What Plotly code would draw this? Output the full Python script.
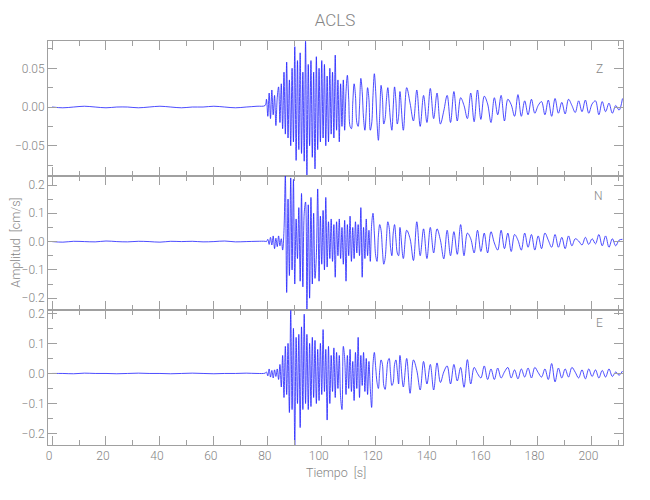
import numpy as np
import plotly.graph_objects as go
from plotly.subplots import make_subplots

# ---------------- data (cm/s) ----------------
T_PRE = np.arange(0, 80, 4)            # quiet pre-event samples
T_MAIN = np.arange(79, 129, 0.5)       # strong-motion samples
T_CODA = 129 + 1.25 * np.arange(67)    # coda samples

Z_PRE = [0.000, -0.001, 0.000, 0.001, 0.000, -0.001, 0.000, 0.000, -0.001, 0.000,
         0.001, 0.000, -0.001, 0.000, 0.000, 0.001, 0.000, -0.001, 0.000, 0.001]
Z_MAIN = [0.002, 0.010, -0.012, 0.018, -0.015, 0.022, -0.010, 0.015, -0.024, 0.012,
          0.026, -0.020, 0.030, -0.028, 0.045, -0.035, 0.058, -0.040, 0.035, -0.050,
          0.050, -0.045, 0.078, -0.069, 0.060, -0.055, 0.070, -0.060, 0.045, -0.070,
          0.085, -0.088, 0.055, -0.050, 0.060, -0.065, 0.045, -0.080, 0.065, -0.055,
          0.050, -0.045, 0.060, -0.040, 0.055, -0.050, 0.040, -0.045, 0.050, -0.035,
          0.045, -0.040, 0.067, -0.030, 0.035, -0.045, 0.030, -0.025, 0.035, -0.030,
          0.020, 0.041, 0.010, -0.025, -0.028, 0.005, 0.030, 0.015, -0.020, -0.025,
          0.000, 0.037, 0.020, -0.015, -0.030, -0.005, 0.025, 0.010, -0.030, -0.022,
          0.015, 0.043, 0.020, -0.020, -0.043, -0.010, 0.028, 0.012, -0.022, -0.015,
          0.010, 0.025, 0.005, -0.018, -0.030, 0.000, 0.026, 0.008, -0.022, -0.012]
Z_CODA = [0.020, -0.030, 0.025, 0.005, -0.018, 0.022, -0.025, 0.015, -0.020, 0.024,
          -0.015, 0.018, -0.022, -0.005, 0.015, -0.020, 0.020, -0.018, 0.012, 0.002,
          -0.015, 0.018, -0.019, 0.022, -0.016, 0.014, 0.004, -0.020, 0.012, -0.010,
          0.015, -0.018, 0.010, 0.003, -0.012, 0.016, -0.012, 0.008, -0.010, 0.010,
          -0.008, 0.002, 0.007, -0.010, 0.009, -0.012, 0.011, -0.008, 0.006, -0.009,
          0.010, 0.002, -0.007, 0.008, -0.006, 0.009, -0.008, 0.004, 0.008, -0.010,
          0.007, -0.006, 0.005, -0.008, 0.002, -0.004, 0.011]

N_PRE = [0.000, -0.002, 0.001, 0.000, -0.001, 0.002, 0.000, -0.001, 0.001, 0.000,
         -0.002, 0.001, 0.000, 0.001, -0.001, 0.000, 0.002, -0.001, 0.000, 0.001]
N_MAIN = [0.001, 0.000, 0.008, -0.010, 0.015, -0.012, 0.020, -0.025, 0.012, -0.018,
          0.020, -0.015, 0.010, -0.030, 0.040, 0.233, -0.180, 0.150, -0.120, 0.225,
          -0.100, 0.220, -0.150, 0.080, -0.060, 0.120, -0.140, 0.170, -0.160, 0.100,
          0.140, -0.243, 0.130, -0.200, 0.156, -0.150, 0.100, -0.130, -0.050, 0.186,
          -0.140, 0.090, -0.080, 0.110, -0.100, 0.156, -0.090, 0.070, -0.060, 0.080,
          -0.070, 0.060, -0.126, 0.070, -0.050, 0.080, -0.060, 0.050, -0.080, 0.075,
          -0.140, 0.060, -0.050, 0.090, -0.070, 0.050, -0.060, 0.070, -0.040, 0.060,
          -0.050, 0.120, -0.126, 0.050, -0.060, 0.080, -0.050, 0.040, -0.070, 0.060,
          0.100, 0.030, -0.050, -0.070, 0.020, 0.060, 0.040, -0.030, -0.080, -0.060,
          0.010, 0.070, 0.050, -0.020, -0.050, 0.030, 0.060, 0.010, -0.040, -0.050]
N_CODA = [0.050, -0.060, 0.040, 0.010, -0.067, 0.070, -0.050, 0.045, -0.060, 0.050,
          -0.040, 0.045, 0.005, -0.061, 0.040, -0.050, 0.035, -0.045, 0.060, -0.050,
          0.030, 0.010, -0.040, 0.040, -0.035, 0.030, -0.040, 0.035, -0.005, -0.030,
          0.040, -0.025, 0.030, -0.035, 0.025, 0.005, -0.030, 0.030, -0.020, 0.025,
          -0.030, 0.020, -0.025, 0.030, 0.005, -0.020, 0.025, -0.020, 0.015, -0.025,
          0.020, -0.015, 0.010, 0.002, -0.012, 0.015, -0.010, 0.010, -0.008, 0.025,
          -0.015, 0.020, -0.020, 0.010, -0.015, 0.005, 0.008]

E_PRE = [0.000, 0.000, -0.001, 0.001, 0.000, 0.000, -0.001, 0.000, 0.001, 0.000,
         0.000, -0.001, 0.000, 0.001, 0.000, -0.001, 0.000, 0.000, 0.001, 0.000]
E_MAIN = [0.001, 0.005, -0.008, 0.015, -0.012, 0.010, -0.015, 0.012, -0.010, 0.015,
          -0.020, 0.030, -0.045, 0.060, -0.080, 0.090, -0.070, 0.100, -0.130, 0.210,
          -0.120, 0.150, -0.238, 0.120, -0.100, 0.130, -0.180, 0.155, -0.120, 0.197,
          -0.100, 0.130, -0.120, 0.100, -0.110, 0.120, -0.080, 0.110, -0.100, 0.080,
          -0.090, 0.100, -0.070, 0.146, -0.060, 0.080, -0.155, 0.090, -0.100, 0.060,
          -0.060, 0.085, -0.080, 0.070, -0.050, 0.060, -0.080, -0.120, 0.090, 0.050,
          -0.070, 0.060, -0.050, 0.080, -0.060, 0.040, -0.090, 0.070, -0.050, 0.120,
          -0.080, 0.060, -0.040, 0.070, -0.060, 0.050, -0.070, 0.040, -0.050, -0.113,
          0.030, 0.070, 0.020, -0.030, -0.050, 0.010, 0.045, 0.030, -0.040, -0.053,
          -0.010, 0.040, 0.050, 0.000, -0.040, -0.030, 0.030, 0.045, 0.010, -0.035]
E_CODA = [0.060, -0.045, 0.050, -0.066, 0.045, 0.010, -0.055, 0.040, -0.035, 0.030,
          -0.055, 0.035, -0.030, 0.005, 0.025, -0.035, 0.030, -0.025, 0.020, -0.046,
          0.046, -0.035, 0.020, 0.000, -0.015, 0.025, -0.020, 0.015, -0.020, 0.018,
          -0.015, 0.005, 0.020, -0.015, 0.012, -0.018, 0.015, -0.012, 0.018, -0.015,
          0.020, 0.003, -0.012, 0.015, -0.020, 0.033, -0.028, 0.018, -0.015, 0.015,
          -0.012, 0.020, 0.004, -0.015, 0.012, -0.018, 0.015, -0.010, 0.012, -0.015,
          0.010, -0.012, 0.015, -0.010, 0.005, -0.006, 0.008]

COMPONENTS = ["Z", "N", "E"]
SERIES = [(Z_PRE, Z_MAIN, Z_CODA), (N_PRE, N_MAIN, N_CODA), (E_PRE, E_MAIN, E_CODA)]
Y_RANGES = [[-0.0887, 0.0853], [-0.243, 0.233], [-0.238, 0.21]]
Y_DTICK = [0.05, 0.1, 0.1]
Y_MINOR = [0.025, 0.05, 0.05]
Y_FMT = [".2f", ".1f", ".1f"]
X_RANGE = [-1.5, 211.7]

# ---------------- figure ----------------
FONT = "Roboto, DejaVu Sans Condensed, sans-serif"
AX = "#a0a0a0"
TXT = "#858585"

t_all = np.concatenate([T_PRE, T_MAIN, T_CODA])
fig = make_subplots(rows=3, cols=1, shared_xaxes=True, vertical_spacing=0)
for i, (pre, main, coda) in enumerate(SERIES):
    y = list(pre) + list(main) + list(coda)
    fig.add_trace(go.Scatter(x=t_all, y=y, mode="lines",
                             line=dict(color="#2020ff", width=0.8, shape="spline", smoothing=1.0),
                             showlegend=False, cliponaxis=False),
                  row=i + 1, col=1)

common = dict(showline=True, linecolor=AX, linewidth=1, mirror="ticks",
              ticks="inside", ticklen=9, tickcolor=AX, tickwidth=1,
              showgrid=False, zeroline=False, automargin=False,
              tickfont=dict(family=FONT, size=12, color=TXT, weight=300))

for i in range(3):
    fig.update_xaxes(range=X_RANGE, tick0=0, dtick=20,
                     minor=dict(ticks="inside", dtick=10, ticklen=5, tickcolor=AX),
                     showticklabels=(i == 2), ticklabelshift=-3,
                     **common, row=i + 1, col=1)
    fig.update_yaxes(range=Y_RANGES[i], tick0=0, dtick=Y_DTICK[i], tickformat=Y_FMT[i],
                     minor=dict(ticks="inside", dtick=Y_MINOR[i], ticklen=5, tickcolor=AX),
                     **common, row=i + 1, col=1)

annotations = []
label_y = [0.953, 0.616, 0.280]
for name, ly in zip(COMPONENTS, label_y):
    annotations.append(dict(text=name, x=0.969, y=ly, xref="paper", yref="paper",
                            showarrow=False,
                            font=dict(family=FONT, size=12, color=TXT, weight=300)))
annotations.append(dict(text="Tiempo\u00a0 [s]", x=0.5, y=-0.068, xref="paper", yref="paper",
                        xanchor="center", yanchor="middle", showarrow=False,
                        font=dict(family=FONT, size=12.5, color=TXT, weight=300)))
annotations.append(dict(text="Amplitud\u00a0 [cm/s]", x=-0.058, y=0.5, xref="paper", yref="paper",
                        xanchor="center", yanchor="middle", textangle=-90, showarrow=False,
                        font=dict(family=FONT, size=12.5, color=TXT, weight=300)))

fig.update_layout(
    width=650, height=500,
    margin=dict(l=40, r=35, t=33, b=63),
    paper_bgcolor="white", plot_bgcolor="white",
    title=dict(text="ACLS", x=0.503, xanchor="center", y=0.976, yanchor="middle",
               font=dict(family=FONT, size=17, color=TXT, weight=300)),
    annotations=annotations,
)

fig.write_html("out.html")
